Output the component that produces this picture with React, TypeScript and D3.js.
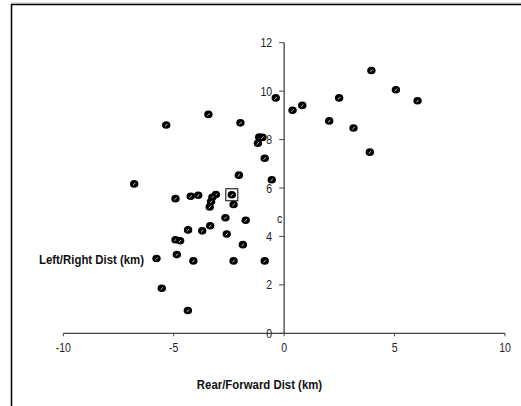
import React from "react";
import * as d3 from "d3";

// Rear/forward vs left/right distances (km)
const rearForward = [
  3.95, 5.06, 6.04, 2.49, 0.82, 0.38, 2.04, 3.14, 3.88, -0.38,
  -3.43, -5.34, -1.98, -1.13, -0.98, -1.19, -0.88, -2.05, -0.56, -6.79,
  -4.92, -4.23, -3.89, -3.09, -3.25, -3.31, -3.37, -2.37, -2.29, -2.66,
  -1.74, -3.35, -4.35, -3.71, -2.6, -1.87, -4.92, -4.71, -4.86, -5.78,
  -4.11, -2.29, -0.88, -5.54, -4.36,
];
const leftRight = [
  10.85, 10.06, 9.6, 9.72, 9.41, 9.21, 8.77, 8.48, 7.48, 9.72,
  9.04, 8.6, 8.69, 8.1, 8.09, 7.85, 7.23, 6.53, 6.34, 6.17,
  5.56, 5.66, 5.7, 5.73, 5.62, 5.44, 5.22, 5.72, 5.32, 4.77,
  4.67, 4.44, 4.27, 4.23, 4.1, 3.66, 3.86, 3.82, 3.25, 3.09,
  2.99, 2.99, 2.99, 1.86, 0.94,
];
const highlighted = { x: -2.37, y: 5.72 };
const centerLabel = { x: -0.2, y: 4.76, text: "c" };
const xTicks = [-10, -5, 0, 5, 10];
const yTicks = [0, 2, 4, 6, 8, 10, 12];
const xTitle = "Rear/Forward Dist (km)";
const yTitle = "Left/Right Dist (km)";

const W = 521;
const H = 406;

export default function App() {
  const x = d3.scaleLinear().domain([-10, 10]).range([63.3, 505]);
  const y = d3.scaleLinear().domain([0, 12]).range([333.3, 42.7]);
  const axisColor = "#444";
  const font = "Arial, 'Liberation Sans', sans-serif";
  const pts = rearForward.map((v, i) => ({ x: v, y: leftRight[i] }));
  // text glyphs are drawn slightly taller than wide
  const stretch = "scale(1,1.2)";

  return (
    <svg
      width={W}
      height={H}
      style={{ position: "absolute", left: 0, top: 0, background: "#fff" }}
      fontFamily={font}
    >
      {/* frame */}
      <line x1={11} x2={W} y1={3} y2={3} stroke="#ccc" strokeWidth={1} />
      <line x1={11.5} x2={W} y1={4.5} y2={4.5} stroke="#000" strokeWidth={1.5} />
      <line x1={11.5} x2={11.5} y1={4} y2={H} stroke="#000" strokeWidth={1.5} />

      {/* x axis */}
      <line x1={x(-10)} x2={x(10)} y1={y(0)} y2={y(0)} stroke={axisColor} strokeWidth={1.3} />
      {xTicks.map((t) => (
        <g key={"xt" + t}>
          <line x1={x(t)} x2={x(t)} y1={y(0)} y2={y(0) + 3} stroke={axisColor} strokeWidth={1} />
          <g transform={`translate(${x(t)},${y(0) + 18.5}) ${stretch}`}>
            <text textAnchor="middle" fontSize={10.5} fill="#222">
              {t}
            </text>
          </g>
        </g>
      ))}

      {/* y axis */}
      <line x1={x(0)} x2={x(0)} y1={y(0)} y2={y(12)} stroke={axisColor} strokeWidth={1.3} />
      {yTicks.map((t) => (
        <g key={"yt" + t}>
          <line x1={x(0) - 5} x2={x(0)} y1={y(t)} y2={y(t)} stroke={axisColor} strokeWidth={1} />
          <g transform={`translate(${x(0) - 12},${y(t) + 4.5}) ${stretch}`}>
            <text textAnchor="end" fontSize={10.5} fill="#222">
              {t}
            </text>
          </g>
        </g>
      ))}

      {/* axis titles */}
      <g transform={`translate(259.5,388.5) ${stretch}`}>
        <text textAnchor="middle" fontSize={11.4} fontWeight="bold" fill="#111">
          {xTitle}
        </text>
      </g>
      <g transform={`translate(39,264) ${stretch}`}>
        <text textAnchor="start" fontSize={11.4} fontWeight="bold" fill="#111">
          {yTitle}
        </text>
      </g>

      {/* points */}
      {pts.map((p, i) => {
        const cx = x(p.x);
        const cy = y(p.y);
        return (
          <g key={"p" + i}>
            <ellipse cx={cx} cy={cy} rx={4.2} ry={3.8} fill="#000" />
            <path
              d={`M${cx - 1.2},${cy + 1.3} Q${cx + 0.2},${cy + 0.6} ${cx + 1},${cy - 1}`}
              stroke="#fff"
              strokeWidth={0.8}
              fill="none"
            />
          </g>
        );
      })}

      {/* highlighted observation */}
      <rect
        x={x(highlighted.x) - 6}
        y={y(highlighted.y) - 6}
        width={12}
        height={12}
        fill="none"
        stroke="#000"
        strokeWidth={1}
      />

      <g transform={`translate(${x(centerLabel.x)},${y(centerLabel.y) + 4.5}) ${stretch}`}>
        <text textAnchor="middle" fontSize={10.5} fill="#222">
          {centerLabel.text}
        </text>
      </g>
    </svg>
  );
}
